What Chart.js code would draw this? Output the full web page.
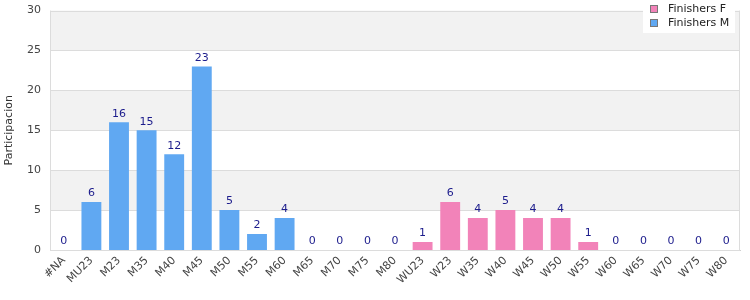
<!DOCTYPE html>
<html><head><meta charset="utf-8">
<script src="https://cdn.jsdelivr.net/npm/chart.js@4/dist/chart.umd.min.js"></script>
<style>html,body{margin:0;padding:0;background:#fff;overflow:hidden}#wrap{width:750px;height:300px;position:relative;overflow:hidden}#c{position:absolute;left:0;top:-5px}</style>
</head><body><div id="wrap"><canvas id="c" width="750" height="305"></canvas></div>
<script>
const categories = ['#NA','MU23','M23','M35','M40','M45','M50','M55','M60','M65','M70','M75','M80','WU23','W23','W35','W40','W45','W50','W55','W60','W65','W70','W75','W80'];
const finishersM = [0,6,16,15,12,23,5,2,4,0,0,0,0,null,null,null,null,null,null,null,null,null,null,null,null];
const finishersF = [null,null,null,null,null,null,null,null,null,null,null,null,null,1,6,4,5,4,4,1,0,0,0,0,0];
const yTicks = [0,5,10,15,20,25,30];
const FONT = "'DejaVu Sans', Verdana, sans-serif";
const SHIFT = 5;

const bandPlugin = {
  id:'bands',
  beforeDatasetsDraw(chart){
    const {ctx, chartArea:a, scales:{y}} = chart;
    ctx.save();
    for (let i=0;i<yTicks.length-1;i++){
      if (i%2===1){
        const t=y.getPixelForValue(yTicks[i+1]), b=y.getPixelForValue(yTicks[i]);
        ctx.fillStyle='#f2f2f2';
        ctx.fillRect(a.left,t,a.right-a.left,b-t);
      }
    }
    ctx.strokeStyle='#dcdcdc';ctx.lineWidth=1;
    yTicks.forEach(v=>{const p=Math.round(y.getPixelForValue(v))+0.5;ctx.beginPath();ctx.moveTo(a.left,p);ctx.lineTo(a.right,p);ctx.stroke();});
    ctx.beginPath();ctx.moveTo(a.left+0.5,a.top);ctx.lineTo(a.left+0.5,a.bottom);ctx.moveTo(Math.round(a.right)-0.5,a.top);ctx.lineTo(Math.round(a.right)-0.5,a.bottom);ctx.stroke();
    ctx.restore();
  },
  afterDatasetsDraw(chart){
    const {ctx, scales:{x,y}} = chart;
    ctx.save();
    ctx.font = '11px '+FONT;
    ctx.fillStyle='#1c1c8c';
    ctx.textAlign='center';ctx.textBaseline='bottom';
    categories.forEach((c,i)=>{
      const v = finishersM[i]!=null?finishersM[i]:finishersF[i];
      ctx.fillText(String(v), x.getPixelForValue(i), y.getPixelForValue(v)-3);
    });
    // legend
    const lx=643, ly=SHIFT, lw=92, lh=33;
    ctx.fillStyle='#ffffff';ctx.fillRect(lx,0,lw,lh+SHIFT);
    const items=[['Finishers F','#f283b9'],['Finishers M','#60a8f2']];
    items.forEach((it,k)=>{
      const yy=ly+9+k*14;
      ctx.fillStyle=it[1];ctx.fillRect(lx+7.5,yy-3.5,7,7);
      ctx.strokeStyle='#777';ctx.lineWidth=1;ctx.strokeRect(lx+7.5,yy-3.5,7,7);
      ctx.fillStyle='#222';ctx.textAlign='left';ctx.textBaseline='middle';
      ctx.fillText(it[0],lx+25,yy);
    });
    ctx.restore();
  }
};

new Chart(document.getElementById('c'),{
  type:'bar',
  data:{labels:categories,datasets:[
    {label:'Finishers F',data:finishersF,backgroundColor:'#f283b9',skipNull:true},
    {label:'Finishers M',data:finishersM,backgroundColor:'#60a8f2'}
  ]},
  options:{
    responsive:false,animation:false,
    layout:{padding:{top:4,right:10,left:3,bottom:0}},
    datasets:{bar:{categoryPercentage:1,barPercentage:0.72,grouped:false}},
    plugins:{legend:{display:false},tooltip:{enabled:false}},
    scales:{
      x:{
        grid:{display:false,drawTicks:false},
        border:{color:'#cfcfcf'},
        ticks:{color:'#444',font:{family:FONT,size:11},maxRotation:45,minRotation:45,autoSkip:false,padding:4},
        afterFit(s){s.height=50;}
      },
      y:{
        min:0,max:30,
        grid:{display:false,drawTicks:false},
        border:{display:false},
        ticks:{color:'#444',font:{family:FONT,size:11},stepSize:5,padding:9},
        title:{display:true,text:'Participacion',color:'#333',font:{family:FONT,size:11},padding:{top:0,bottom:0}},
        afterFit(s){s.width=47;}
      }
    }
  },
  plugins:[bandPlugin]
});
</script></body></html>
